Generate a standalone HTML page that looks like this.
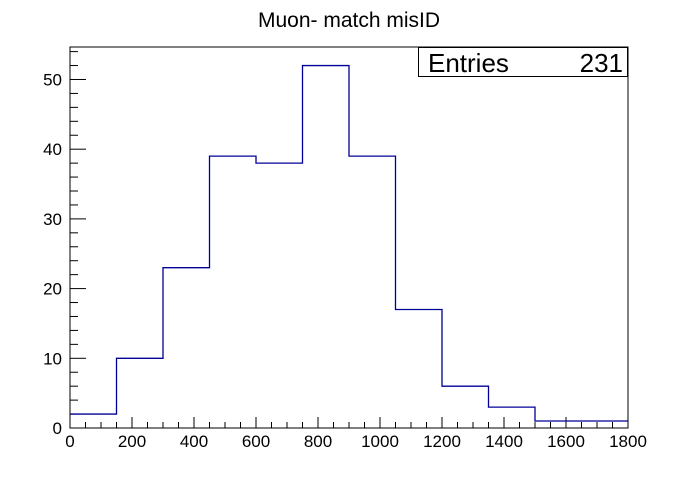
<!DOCTYPE html>
<html><head><meta charset="utf-8"><style>
body{margin:0;background:#fff;}
svg text{font-family:"Liberation Sans",sans-serif;}
</style></head><body>
<svg id="c" width="698" height="476" xmlns="http://www.w3.org/2000/svg">
<rect width="698" height="476" fill="#fff"/>
<text x="349" y="27" style="font-size:21px" text-anchor="middle">Muon- match misID</text>
<g id="axes"></g>
<path id="hist" fill="none" stroke="#000099" stroke-width="1.3"/>
<rect x="70" y="47" width="558" height="381" fill="none" stroke="#000" stroke-width="1"/>
<g>
<rect x="418.5" y="47.5" width="209" height="29" fill="#fff" stroke="#000"/>
<text x="428" y="72" style="font-size:26px">Entries</text>
<text x="623" y="72" style="font-size:26px" text-anchor="end">231</text>
</g>
</svg>
<script>
const binEdges=[0,150,300,450,600,750,900,1050,1200,1350,1500,1650,1800];
const counts=[2,10,23,39,38,52,39,17,6,3,1,1];
const xTicks=[0,200,400,600,800,1000,1200,1400,1600,1800];
const yTicks=[0,10,20,30,40,50];
const X0=70,X1=628,Y0=428,Y1=47,xMax=1800,yMax=54.66;
const sx=v=>X0+v/xMax*(X1-X0);
const sy=v=>Y0-v/yMax*(Y0-Y1);
let d=`M${sx(binEdges[0])},${sy(counts[0])}`;
for(let i=0;i<counts.length;i++){
  if(i>0)d+=`L${sx(binEdges[i])},${sy(counts[i])}`;
  d+=`L${sx(binEdges[i+1])},${sy(counts[i])}`;
}
document.getElementById('hist').setAttribute('d',d);
const ns='http://www.w3.org/2000/svg',g=document.getElementById('axes');
function line(x1,y1,x2,y2,name){const l=document.createElementNS(ns,'line');
l.setAttribute('x1',x1);l.setAttribute('y1',y1);l.setAttribute('x2',x2);l.setAttribute('y2',y2);l.setAttribute('stroke','#000');


g.appendChild(l);}
function text(x,y,s,anchor,name){const t=document.createElementNS(ns,'text');
t.setAttribute('x',x);t.setAttribute('y',y);t.setAttribute('style','font-size:17px');t.setAttribute('text-anchor',anchor);t.textContent=s;


g.appendChild(t);}
for(let v=0;v<=xMax;v+=50){const big=v%200===0;const x=sx(v);line(x,Y0,x,Y0-(big?11:6),'x-tick');}
for(let v=0;v<=54;v+=2){const big=v%10===0;const y=sy(v);line(X0,y,X0+(big?16:8),y,'y-tick');}
xTicks.forEach(v=>text(sx(v),447,String(v),'middle','x-tick-label'));
yTicks.forEach(v=>text(X0-8,sy(v)+6,String(v),'end','y-tick-label'));
</script>
</body></html>
